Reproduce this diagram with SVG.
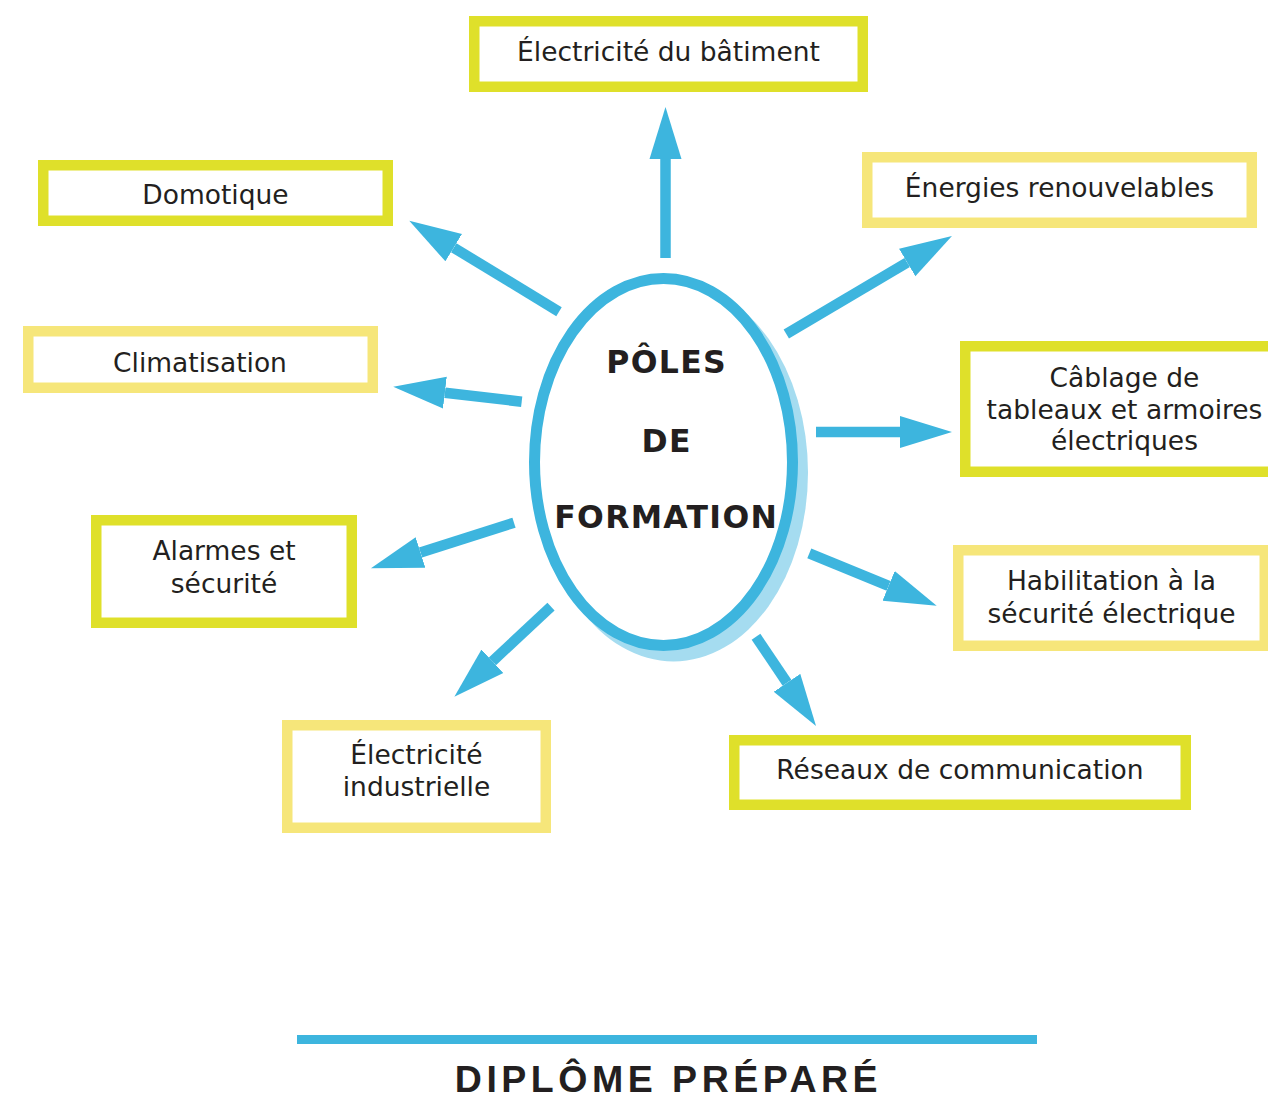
<svg xmlns="http://www.w3.org/2000/svg" width="1268" height="1099" viewBox="0 0 1268 1099">
<style>
.bg{fill:#ffffff}
.box-g{fill:#ffffff;stroke:#dfe02a;stroke-width:10.5}
.box-y{fill:#ffffff;stroke:#f6e67a;stroke-width:10.5}
.lbl{font-family:"DejaVu Sans",Verdana,sans-serif;font-size:26.5px;fill:#231f20;text-anchor:middle}
.center{font-family:"DejaVu Sans",Verdana,sans-serif;font-size:31.5px;font-weight:bold;fill:#231f20;text-anchor:middle;letter-spacing:1.3px}
.title{font-family:"Liberation Sans",Arial,sans-serif;font-size:37.5px;font-weight:bold;fill:#231f20;text-anchor:middle;letter-spacing:4.5px}
.arrow{stroke:#3db5de;stroke-width:10.5;fill:none;marker-end:url(#head)}
</style>
<defs>
<marker id="head" markerUnits="userSpaceOnUse" markerWidth="54" markerHeight="34" viewBox="0 -17 54 34" refX="0" refY="0" orient="auto">
<path d="M0,-16 L52,0 L0,16 z" fill="#3db5de"/>
</marker>
</defs>
<rect class="bg" x="0" y="0" width="1268" height="1099"/>

<g id="connectors">
<line class="arrow" x1="665.5" y1="258" x2="665.5" y2="159"/>
<line class="arrow" x1="786.3" y1="334" x2="907.2" y2="262.5"/>
<line class="arrow" x1="816" y1="432" x2="900" y2="432"/>
<line class="arrow" x1="559" y1="311.7" x2="453.7" y2="247.7"/>
<line class="arrow" x1="521.7" y1="401.7" x2="444.9" y2="392.7"/>
<line class="arrow" x1="514" y1="522.7" x2="420.5" y2="552.5"/>
<line class="arrow" x1="551" y1="606.7" x2="492.4" y2="661.3"/>
<line class="arrow" x1="809.3" y1="553.3" x2="888.6" y2="585.9"/>
<line class="arrow" x1="756" y1="636.7" x2="787" y2="682.8"/>
</g>

<g id="center">
<ellipse cx="673.5" cy="472.5" rx="134.5" ry="189" fill="#a5dcf0"/>
<ellipse cx="663.5" cy="462" rx="129" ry="183.5" fill="#ffffff" stroke="#3db5de" stroke-width="11"/>
<text class="center" x="666.7" y="373">PÔLES</text>
<text class="center" x="666.7" y="452">DE</text>
<text class="center" x="666.2" y="528">FORMATION</text>
</g>

<g id="n-batiment">
<rect class="box-g" x="474.25" y="21.25" width="388.5" height="65.5"/>
<text class="lbl" x="668.5" y="61">Électricité du bâtiment</text>
</g>
<g id="n-domotique">
<rect class="box-g" x="43.25" y="165.25" width="344.5" height="55.5"/>
<text class="lbl" x="215.5" y="204">Domotique</text>
</g>
<g id="n-climatisation">
<rect class="box-y" x="28.25" y="331.25" width="344.5" height="56.5"/>
<text class="lbl" x="200" y="372">Climatisation</text>
</g>
<g id="n-energies">
<rect class="box-y" x="867.25" y="157.25" width="384.5" height="65.5"/>
<text class="lbl" x="1059.5" y="197">Énergies renouvelables</text>
</g>
<g id="n-cablage">
<rect class="box-g" x="965.25" y="346.25" width="318.5" height="125.5"/>
<text class="lbl" x="1124.5" y="387">Câblage de</text>
<text class="lbl" x="1124.5" y="418.5">tableaux et armoires</text>
<text class="lbl" x="1124.5" y="450">électriques</text>
</g>
<g id="n-alarmes">
<rect class="box-g" x="96.25" y="520.25" width="255.5" height="102.5"/>
<text class="lbl" x="224" y="560">Alarmes et</text>
<text class="lbl" x="224" y="593">sécurité</text>
</g>
<g id="n-industrielle">
<rect class="box-y" x="287.25" y="725.25" width="258.5" height="102.5"/>
<text class="lbl" x="416.5" y="764">Électricité</text>
<text class="lbl" x="416.5" y="796">industrielle</text>
</g>
<g id="n-habilitation">
<rect class="box-y" x="958.25" y="550.25" width="306.5" height="95.5"/>
<text class="lbl" x="1111.5" y="590">Habilitation à la</text>
<text class="lbl" x="1111.5" y="622.7">sécurité électrique</text>
</g>
<g id="n-reseaux">
<rect class="box-g" x="734.25" y="740.25" width="451.5" height="64.5"/>
<text class="lbl" x="960" y="779">Réseaux de communication</text>
</g>

<g id="footer">
<rect x="297" y="1035" width="740" height="9" fill="#3db5de"/>
<text class="title" x="668.5" y="1092">DIPLÔME PRÉPARÉ</text>
</g>
</svg>
